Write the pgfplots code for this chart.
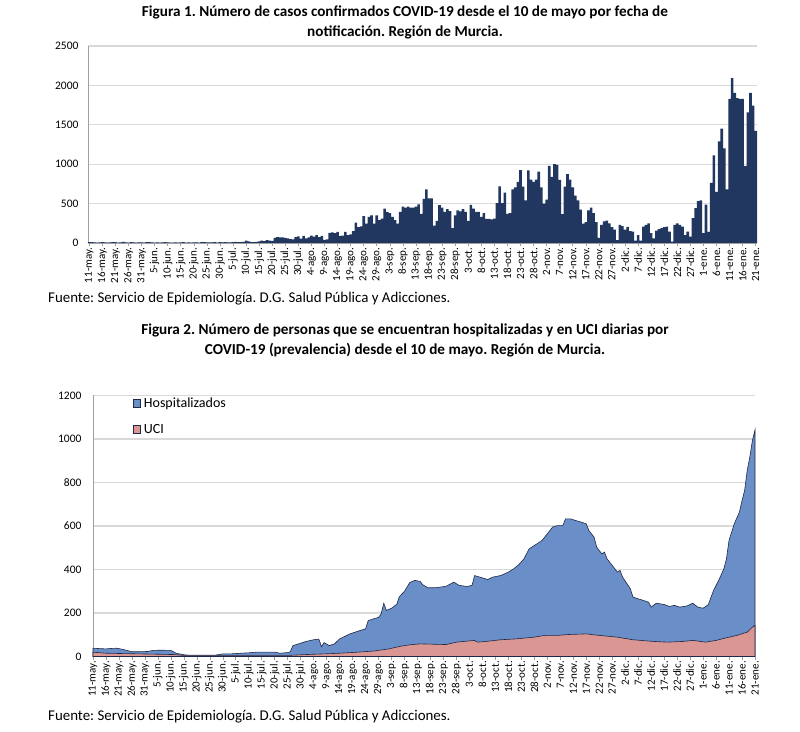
\documentclass[border=0pt]{standalone}
\usepackage{pgfplots}
\pgfplotsset{compat=1.18}
\usepackage{pgfplotstable}
\usepackage{fontspec}
\setmainfont{Carlito}
\frenchspacing
\definecolor{navy}{RGB}{33,55,96}
\definecolor{hosp}{RGB}{106,142,200}
\definecolor{uci}{RGB}{218,150,146}
\definecolor{gridc}{RGB}{217,217,217}
\definecolor{axc}{RGB}{160,160,160}
\definecolor{edge}{RGB}{30,40,70}

\pgfplotstableread{
d v
0 10
1 12
2 8
3 6
4 9
5 11
6 7
7 5
8 8
9 12
10 10
11 6
12 9
13 14
14 8
15 6
16 10
17 7
18 5
19 9
20 8
21 6
22 10
23 12
24 7
25 5
26 9
27 6
28 8
29 11
30 7
31 4
32 6
33 9
34 5
35 8
36 10
37 6
38 7
39 5
40 9
41 8
42 6
43 10
44 12
45 8
46 7
47 9
48 11
49 6
50 10
51 8
52 12
53 9
54 7
55 11
56 14
57 10
58 12
59 15
60 30
61 22
62 10
63 12
64 14
65 20
66 30
67 25
68 35
69 30
70 28
71 65
72 75
73 70
74 72
75 65
76 60
77 50
78 45
79 75
80 85
81 55
82 90
83 60
84 70
85 95
86 80
87 100
88 75
89 90
90 40
91 45
92 130
93 135
94 125
95 140
96 90
97 95
98 140
99 100
100 110
101 150
102 260
103 200
104 210
105 340
106 245
107 330
108 350
109 245
110 350
111 290
112 310
113 435
114 395
115 380
116 330
117 290
118 245
119 395
120 460
121 450
122 460
123 450
124 450
125 460
126 490
127 370
128 560
129 680
130 565
131 565
132 220
133 280
134 480
135 450
136 395
137 430
138 405
139 190
140 350
141 415
142 400
143 430
144 395
145 280
146 485
147 435
148 395
149 395
150 330
151 380
152 305
153 305
154 300
155 310
156 505
157 720
158 505
159 640
160 370
161 380
162 680
163 705
164 775
165 925
166 715
167 540
168 920
169 805
170 775
171 805
172 905
173 705
174 500
175 550
176 980
177 840
178 1000
179 990
180 800
181 365
182 715
183 875
184 805
185 705
186 600
187 540
188 425
189 245
190 265
191 415
192 450
193 380
194 265
195 65
196 230
197 273
198 285
199 250
200 200
201 170
202 38
203 230
204 215
205 170
206 205
207 150
208 145
209 30
210 100
211 30
212 209
213 230
214 250
215 124
216 60
217 158
218 175
219 190
220 200
221 209
222 145
223 17
224 230
225 250
226 230
227 209
228 100
229 145
230 80
231 315
232 443
233 530
234 540
235 124
236 486
237 140
238 763
239 1113
240 650
241 1290
242 1450
243 1200
244 680
245 1829
246 2093
247 1905
248 1840
249 1830
250 1830
251 976
252 1658
253 1905
254 1743
255 1424
}\casos

\pgfplotstableread{
d h
0 38
3 36
5 35
7 37
9 38
11 34
13 28
15 22
18 22
21 23
23 28
26 29
30 28
32 15
35 8
37 6
42 6
47 6
50 12
53 12
57 15
60 17
63 20
66 20
70 20
72 15
75 18
76 22
77 50
80 61
82 69
85 77
87 80
88 45
89 64
91 50
93 58
95 81
99 104
103 120
105 127
106 165
108 173
110 180
111 196
112 245
113 212
115 222
117 240
118 275
120 300
121 320
122 340
124 350
126 345
127 330
129 316
132 316
136 323
139 342
141 327
144 322
146 327
147 372
149 365
152 354
154 365
157 372
160 388
162 403
164 422
166 449
168 495
171 518
173 534
175 564
177 595
179 602
181 602
182 633
184 633
186 625
188 618
190 610
191 579
193 549
194 503
195 487
196 472
197 480
198 449
200 419
202 388
203 396
204 365
207 311
208 273
210 265
212 258
214 250
215 227
217 245
220 239
222 230
224 235
226 227
229 233
231 245
233 227
235 222
237 238
239 303
241 350
243 403
244 449
245 534
247 610
249 664
250 717
251 763
252 855
253 917
254 993
255 1042
}\hospt

\pgfplotstableread{
d u
0 20
5 15
18 12
31 9
35 5
50 5
75 5
82 9
89 12
95 15
102 20
108 25
114 35
118 46
121 52
123 55
126 58
136 55
140 66
147 74
148 66
152 70
157 77
163 81
170 89
174 97
179 97
183 101
190 104
195 97
202 89
208 77
215 70
221 66
227 69
231 74
236 66
240 74
244 86
248 97
252 112
254 135
255 143
}\ucit

\def\datelabels{11-may.,16-may.,21-may.,26-may.,31-may.,5-jun.,10-jun.,15-jun.,20-jun.,25-jun.,30-jun.,5-jul.,10-jul.,15-jul.,20-jul.,25-jul.,30-jul.,4-ago.,9-ago.,14-ago.,19-ago.,24-ago.,29-ago.,3-sep.,8-sep.,13-sep.,18-sep.,23-sep.,28-sep.,3-oct.,8-oct.,13-oct.,18-oct.,23-oct.,28-oct.,2-nov.,7-nov.,12-nov.,17-nov.,22-nov.,27-nov.,2-dic.,7-dic.,12-dic.,17-dic.,22-dic.,27-dic.,1-ene.,6-ene.,11-ene.,16-ene.,21-ene.}

\pgfplotsset{
  excelstyle/.style={
    scale only axis,
    axis x line*=bottom,
    axis y line*=left,
    axis line style={draw=axc, line width=0.8pt},
    ymajorgrids,
    grid style={draw=gridc, line width=1.2pt},
    xtick={0,5,...,255},
    xticklabels/.expanded={\datelabels},
    xtick style={draw=axc, line width=0.6pt},
    major tick length=3pt,
    xtick pos=bottom,
    tick align=outside,
    ytick style={draw=none},
    xticklabel style={rotate=90, anchor=east, font=\fontsize{11}{12}\selectfont, inner sep=1.5pt},
    yticklabel style={font=\fontsize{11.5}{12}\selectfont},
    /pgf/number format/assume math mode=true,
    /pgf/number format/1000 sep={},
    clip=false,
  }
}

\begin{document}
\begin{tikzpicture}[x=1pt,y=1pt]
\useasboundingbox (0,0) rectangle (800,731);
\node[font=\bfseries\fontsize{15.2}{17}\selectfont] at (405,719) {Figura 1. Número de casos confirmados COVID-19 desde el 10 de mayo por fecha de};
\node[font=\bfseries\fontsize{15.2}{17}\selectfont] at (405,699) {notificación. Región de Murcia.};
\node[font=\fontsize{14.9}{16}\selectfont, anchor=west, inner sep=0pt] at (48,432) {Fuente: Servicio de Epidemiología. D.G. Salud Pública y Adicciones.};
\node[font=\bfseries\fontsize{15.2}{17}\selectfont] at (405,401) {Figura 2. Número de personas que se encuentran hospitalizadas y en UCI diarias por};
\node[font=\bfseries\fontsize{15.2}{17}\selectfont] at (405,381) {COVID-19 (prevalencia) desde el 10 de mayo. Región de Murcia.};
\node[font=\fontsize{14.9}{16}\selectfont, anchor=west, inner sep=0pt] at (48,14) {Fuente: Servicio de Epidemiología. D.G. Salud Pública y Adicciones.};

\begin{axis}[excelstyle,
  at={(88pt,488pt)}, anchor=south west,
  width=669pt, height=197pt,
  xmin=-0.5, xmax=255.5,
  ymin=0, ymax=2500, ytick={0,500,...,2500},
  yticklabel style={xshift=-3pt},
]
\addplot[ybar, bar width=1, fill=navy, draw=none] table[x=d,y=v] {\casos};
\end{axis}

\begin{axis}[excelstyle,
  at={(93pt,74.5pt)}, anchor=south west,
  width=662pt, height=261pt,
  xmin=0, xmax=255,
  ymin=0, ymax=1200, ytick={0,200,...,1200},
  yticklabel style={xshift=-5pt},
  legend style={draw=none, fill=none, at={(0.06,1.0)}, anchor=north west,
    font=\fontsize{14}{16}\selectfont, row sep=11pt, inner sep=0pt,
    /tikz/every odd column/.append style={column sep=1pt}},
  legend cell align=left,
  legend image code/.code={\draw[#1, draw=edge, line width=0.5pt] (0pt,-3.8pt) rectangle (7.5pt,3.8pt);},
]
\addplot[fill=hosp, draw=edge, line width=0.6pt] table[x=d,y=h] {\hospt} \closedcycle;
\addlegendentry{Hospitalizados}
\addplot[fill=uci, draw=edge, line width=0.6pt] table[x=d,y=u] {\ucit} \closedcycle;
\addlegendentry{UCI}
\end{axis}
\end{tikzpicture}
\end{document}
